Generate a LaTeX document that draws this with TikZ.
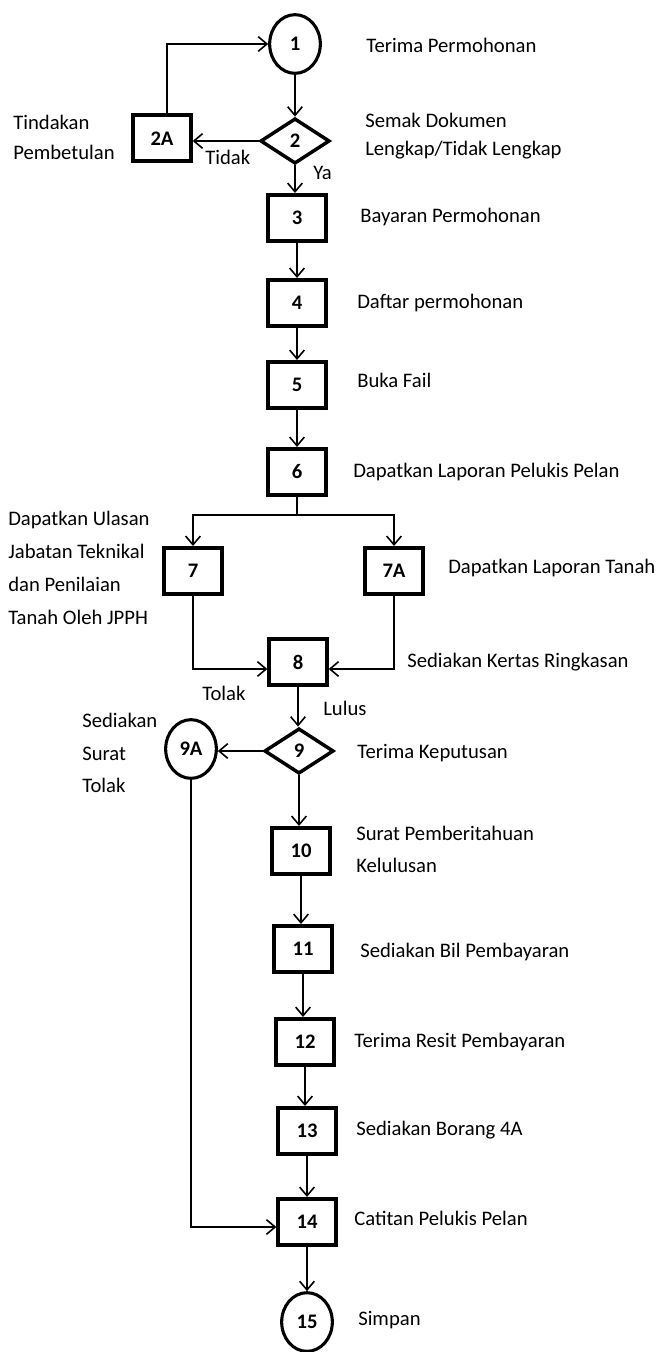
\documentclass[tikz,border=0pt]{standalone}
\usepackage{fontspec}
\setmainfont{Carlito}
\usetikzlibrary{shapes.geometric,arrows.meta}
\begin{document}
\begin{tikzpicture}[x=0.75pt,y=-0.75pt,
  every node/.style={font=\fontsize{15.5}{23}\selectfont},
  box/.style={draw,line width=3pt,minimum width=43pt,minimum height=34.5pt,inner sep=0pt,font=\fontsize{15.5}{18}\selectfont\bfseries},
  term/.style={draw,ellipse,line width=2.3pt,minimum width=38pt,minimum height=44pt,inner sep=0pt,font=\fontsize{15.5}{18}\selectfont\bfseries},
  dec/.style={draw,diamond,line width=2.6pt,minimum width=52pt,minimum height=34pt,inner sep=0pt,font=\fontsize{15.5}{18}\selectfont\bfseries},
  lbl/.style={anchor=west,inner sep=0pt,align=left},
  conn/.style={line width=1.2pt,-{Straight Barb[length=6.5pt,width=11pt]}},
  plain/.style={line width=1.2pt}
]
\useasboundingbox (0,0) rectangle (657,1352);
% shapes
\node[term] (c1) at (295,44) {1};
\node[dec] (d2) at (295,141) {2};
\node[box] (b2A) at (162,138.5) {2A};
\node[box] (b3) at (297,218) {3};
\node[box] (b4) at (297,303) {4};
\node[box] (b5) at (297,385) {5};
\node[box] (b6) at (297,472) {6};
\node[box] (b7) at (193,571) {7};
\node[box] (b7A) at (394,571) {7A};
\node[box] (b8) at (298,662) {8};
\node[dec] (d9) at (299,751) {9};
\node[term] (c9A) at (191,749) {9A};
\node[box] (b10) at (301,851) {10};
\node[box] (b11) at (303,949) {11};
\node[box] (b12) at (305,1042) {12};
\node[box] (b13) at (307,1131) {13};
\node[box] (b14) at (307,1222) {14};
\node[term] (c15) at (307,1322) {15};
% labels
\node[lbl] (t1) at (366,45) {Terima Permohonan};
\node[lbl,font=\fontsize{15.5}{21}\selectfont] (t2) at (365,136) {Semak Dokumen\\Lengkap/Tidak Lengkap};
\node[lbl,font=\fontsize{15.5}{23}\selectfont] (t2A) at (13,137.5) {Tindakan\\Pembetulan};
\node[lbl] (tTidak) at (205,157) {Tidak};
\node[lbl] (tYa) at (313,173) {Ya};
\node[lbl] (t3) at (360,217) {Bayaran Permohonan};
\node[lbl] (t4) at (357,303) {Daftar permohonan};
\node[lbl] (t5) at (357,380) {Buka Fail};
\node[lbl] (t6) at (353,472) {Dapatkan Laporan Pelukis Pelan};
\node[lbl,font=\fontsize{15.5}{24.75}\selectfont] (t7) at (8,568) {Dapatkan Ulasan\\Jabatan Teknikal\\dan Penilaian\\Tanah Oleh JPPH};
\node[lbl] (t7A) at (448,568) {Dapatkan Laporan Tanah};
\node[lbl] (t8) at (407,662) {Sediakan Kertas Ringkasan};
\node[lbl] (tTolak) at (202,693) {Tolak};
\node[lbl] (tLulus) at (323,708) {Lulus};
\node[lbl] (t9) at (357,753) {Terima Keputusan};
\node[lbl,font=\fontsize{15.5}{24.4}\selectfont] (t9A) at (82,753) {Sediakan\\Surat\\Tolak};
\node[lbl,font=\fontsize{15.5}{24}\selectfont] (t10) at (356,849) {Surat Pemberitahuan\\Kelulusan};
\node[lbl] (t11) at (360,952) {Sediakan Bil Pembayaran};
\node[lbl] (t12) at (354,1042) {Terima Resit Pembayaran};
\node[lbl] (t13) at (356,1130) {Sediakan Borang 4A};
\node[lbl] (t14) at (354,1218) {Catitan Pelukis Pelan};
\node[lbl] (t15) at (358,1320) {Simpan};
% connectors
\draw[conn] (c1.south) -- (c1.south |- d2.north);
\draw[conn] (d2.west) -- (d2.west -| b2A.east);
\draw[conn] ([xshift=3.75pt]b2A.north) |- (c1.west);
\draw[conn] (d2.south) -- (d2.south |- b3.north);
\draw[conn] (b3.south) -- (b3.south |- b4.north);
\draw[conn] (b4.south) -- (b4.south |- b5.north);
\draw[conn] (b5.south) -- (b5.south |- b6.north);
\draw[plain] (b6.south) -- ++(0,18) coordinate (s6);
\draw[conn] (s6) -| (b7.north);
\draw[conn] (s6) -| (b7A.north);
\draw[conn] (b7.south) |- ([yshift=-5.25pt]b8.west);
\draw[conn] (b7A.south) |- ([yshift=-5.25pt]b8.east);
\draw[conn] (b8.south) -- (b8.south |- d9.north);
\draw[conn] (d9.west) -- (d9.west -| c9A.east);
\draw[conn] (d9.south) -- (d9.south |- b10.north);
\draw[conn] (b10.south) -- (b10.south |- b11.north);
\draw[conn] (b11.south) -- (b11.south |- b12.north);
\draw[conn] (b12.south) -- (b12.south |- b13.north);
\draw[conn] (b13.south) -- (b13.south |- b14.north);
\draw[conn] (b14.south) -- (b14.south |- c15.north);
\draw[conn] (c9A.south) |- ([yshift=-3.75pt]b14.west);
\end{tikzpicture}
\end{document}
